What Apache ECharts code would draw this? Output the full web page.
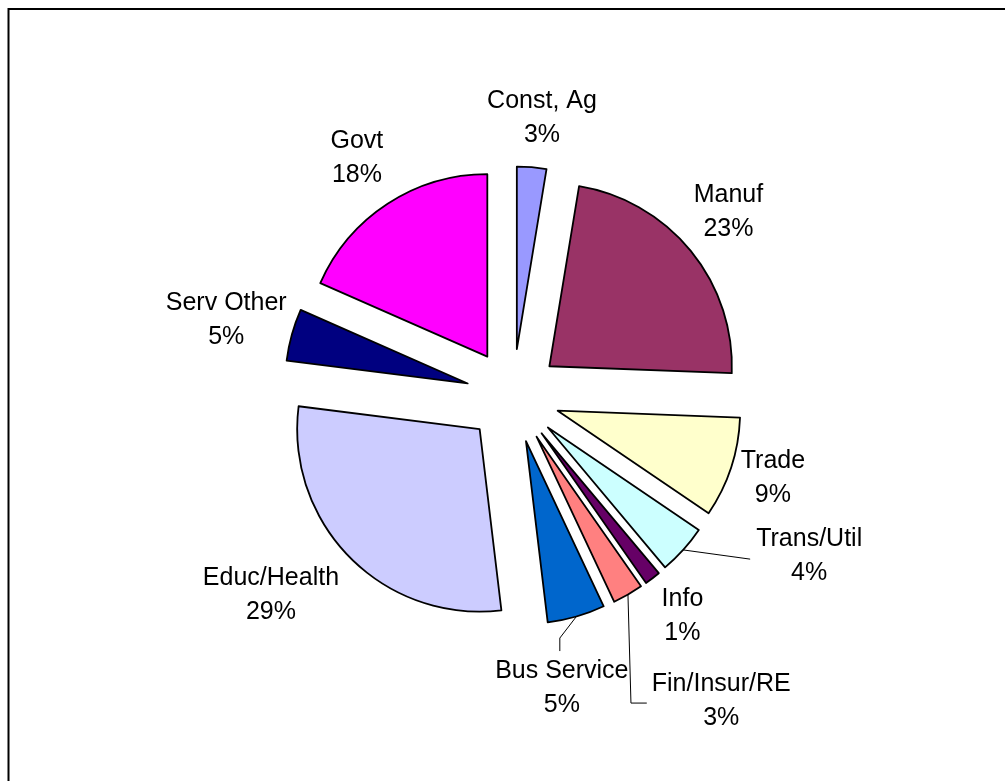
<!DOCTYPE html>
<html>
<head>
<meta charset="utf-8">
<script src="https://cdn.jsdelivr.net/npm/echarts@6/dist/echarts.min.js"></script>
<style>
  html, body { margin: 0; padding: 0; background: #fff; }
  #chart { width: 1005px; height: 781px; }
</style>
</head>
<body>
<div id="chart"></div>
<script>
// Employment share by sector (percent of total)
const categories = ['Const, Ag', 'Manuf', 'Trade', 'Trans/Util', 'Info', 'Fin/Insur/RE', 'Bus Service', 'Educ/Health', 'Serv Other', 'Govt'];
const shares = [2.6, 23.0, 8.9, 4.4, 1.4, 2.7, 5.1, 28.9, 4.6, 18.4];
const sliceColors = ['#9999FF', '#993366', '#FFFFCC', '#CCFFFF', '#660066', '#FF8080', '#0066CC', '#CCCCFF', '#000080', '#FF00FF'];

// Label placement: pixel nudges away from the radial label anchor, and leader line kinds
const labelNudges = [[6, 3], [-3, -6], [-8, -6], [87, -29], [-2, -4], [67, 61], [-29, 21], [-42, 0], [-15, -1], [-2, -2]];
const leaderKinds = [null, null, null, 'side', null, 'elbow', 'top', null, null, null];

const CENTER = [513, 396];
const RADIUS = 182.5;
const EXPLODE = 47;
const LABEL_RADIUS = 282;

const total = shares.reduce((a, b) => a + b, 0);
const midAngles = [];
let acc = 0;
shares.forEach(v => { midAngles.push((acc + v / 2) / total * 2 * Math.PI); acc += v; });

function polar(r, a) {
  return [CENTER[0] + r * Math.sin(a), CENTER[1] - r * Math.cos(a)];
}

const labelFont = {
  fontFamily: '"Liberation Sans", Arial, sans-serif',
  fontSize: 25,
  lineHeight: 34,
  color: '#000'
};

const chart = echarts.init(document.getElementById('chart'), null, { renderer: 'canvas' });
chart.setOption({
  animation: false,
  backgroundColor: '#fff',
  graphic: [{
    type: 'rect',
    silent: true,
    shape: { x: 8.5, y: 9, width: 1100, height: 900 },
    style: { fill: 'none', stroke: '#000', lineWidth: 2 }
  }],
  series: [
    // exploded slices
    {
      type: 'pie',
      center: CENTER,
      radius: RADIUS,
      startAngle: 90,
      clockwise: true,
      selectedMode: 'multiple',
      selectedOffset: EXPLODE,
      emphasis: { disabled: true },
      itemStyle: { borderColor: '#000', borderWidth: 1.8 },
      label: { show: false },
      labelLine: { show: false },
      data: categories.map((name, i) => ({
        name: name,
        value: shares[i],
        selected: true,
        itemStyle: { color: sliceColors[i] }
      }))
    },
    // category / percent labels with leader lines
    {
      type: 'pie',
      silent: true,
      center: CENTER,
      radius: RADIUS,
      startAngle: 90,
      clockwise: true,
      selectedMode: false,
      avoidLabelOverlap: false,
      percentPrecision: 0,
      emphasis: { disabled: true },
      itemStyle: { color: 'transparent', borderWidth: 0 },
      label: Object.assign({ show: true, position: 'outside', formatter: '{b}\n{d}%' }, labelFont),
      labelLine: { show: false, smooth: false, lineStyle: { color: '#000', width: 1 } },
      labelLayout: function (p) {
        const i = p.dataIndex;
        const a = midAngles[i];
        const base = polar(LABEL_RADIUS, a);
        const x = base[0] + labelNudges[i][0];
        const y = base[1] + labelNudges[i][1];
        const w = p.labelRect.width;
        const h = p.labelRect.height;
        const out = { x: x, y: y, align: 'center', verticalAlign: 'middle', hideOverlap: false };
        const kind = leaderKinds[i];
        if (kind) {
          const s = polar(RADIUS + EXPLODE, a);
          let end, bend;
          if (kind === 'side') {
            end = [x - w / 2 - 6, y + 3];
            bend = end;
          } else if (kind === 'elbow') {
            end = [x - w / 2 - 5, y + 2];
            bend = [s[0] + 3, end[1]];
          } else {
            end = [x - 2, y - h / 2 - 3];
            bend = [end[0], end[1] - 13];
          }
          out.labelLinePoints = [s, bend, end];
        }
        return out;
      },
      data: categories.map((name, i) => ({
        name: name,
        value: shares[i],
        labelLine: { show: !!leaderKinds[i] }
      }))
    }
  ]
});
</script>
</body>
</html>
